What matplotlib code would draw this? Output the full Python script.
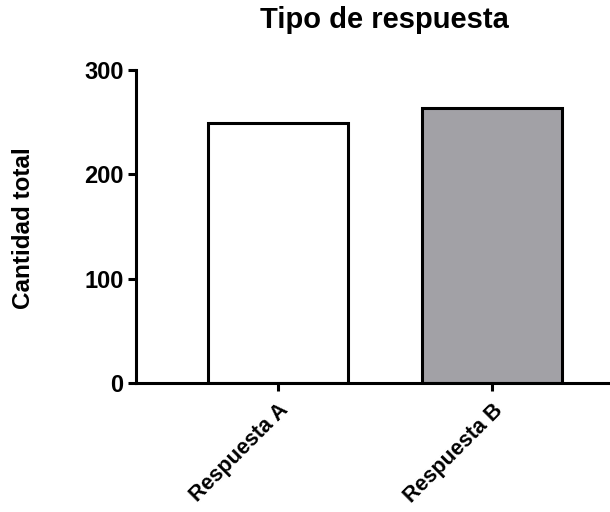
import matplotlib
matplotlib.use("Agg")
import matplotlib.pyplot as plt

# Data
categories = ["Respuesta A", "Respuesta B"]
values = [249, 264]
bar_colors = ["#ffffff", "#a2a1a6"]
y_ticks = [0, 100, 200, 300]


def draw_graph():
    plt.rcParams['font.family'] = ['Liberation Sans', 'DejaVu Sans']
    plt.rcParams['font.weight'] = 'bold'

    fig = plt.figure(figsize=(6.10, 5.12), dpi=100)
    ax = fig.add_axes([0.223, 0.252, 0.777, 0.611])

    x = list(range(len(categories)))
    ax.bar(x, values, width=0.654, color=bar_colors,
           edgecolor='black', linewidth=2.2, zorder=2)

    ax.set_xlim(-0.664, 1.55)
    ax.set_ylim(0, 300)
    ax.set_yticks(y_ticks)
    ax.set_xticks(x)
    ax.set_xticklabels(categories, rotation=45, ha='right',
                       rotation_mode='anchor', fontsize=15.5, fontweight='bold')
    for lbl in ax.get_yticklabels():
        lbl.set_fontsize(17)
        lbl.set_fontweight('bold')

    for side in ['top', 'right']:
        ax.spines[side].set_visible(False)
    for side in ['left', 'bottom']:
        ax.spines[side].set_linewidth(2.2)
        ax.spines[side].set_zorder(3)
    ax.tick_params(axis='both', width=2.2, length=6, direction='out')
    ax.tick_params(axis='x', pad=6)
    ax.tick_params(axis='y', pad=3)

    fig.text(23 / 610, 1 - 228 / 512, 'Cantidad total', rotation=90,
             ha='center', va='center', fontsize=17.5, fontweight='bold')
    fig.text(384 / 610, 1 - 20 / 512, 'Tipo de respuesta', ha='center',
             va='center', fontsize=21, fontweight='bold')

    fig.savefig('out.png', dpi=100)


def main():
    draw_graph()


if __name__ == "__main__":
    main()
